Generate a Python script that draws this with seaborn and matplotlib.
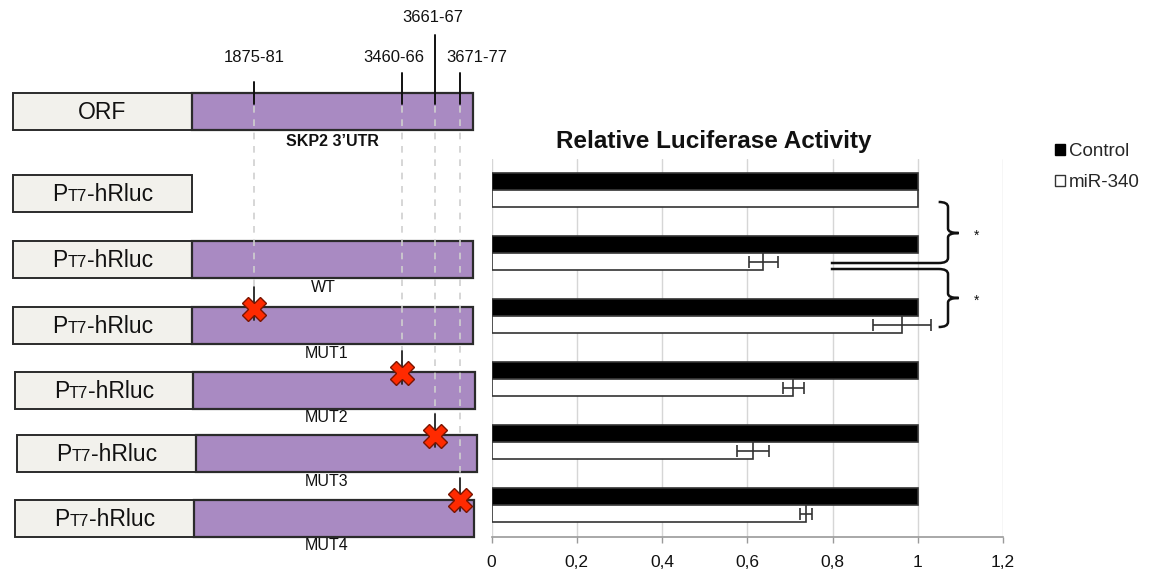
import numpy as np
import pandas as pd
import matplotlib
matplotlib.use("Agg")
import matplotlib.pyplot as plt
import seaborn as sns
from matplotlib.patches import Rectangle, Patch, PathPatch
from matplotlib.path import Path
from matplotlib.offsetbox import TextArea, HPacker, AnnotationBbox

# ---------------- data ----------------
constructs = ["PT7-hRluc", "WT", "MUT1", "MUT2", "MUT3", "MUT4"]
series = ["Control", "miR-340"]
control = [1.0, 1.0, 1.0, 1.0, 1.0, 1.0]
mir340 = [1.0, 0.638, 0.963, 0.708, 0.613, 0.737]
mir340_err = [0.0, 0.034, 0.067, 0.024, 0.038, 0.014]
xticks = [0, 0.2, 0.4, 0.6, 0.8, 1.0, 1.2]
xtick_labels = ["0", "0,2", "0,4", "0,6", "0,8", "1", "1,2"]
site_labels = ["1875-81", "3460-66", "3661-67", "3671-77"]
mut_labels = ["WT", "MUT1", "MUT2", "MUT3", "MUT4"]
title = "Relative Luciferase Activity"

df = pd.DataFrame({
    "construct": constructs * 2,
    "condition": [series[0]] * len(constructs) + [series[1]] * len(constructs),
    "activity": control + mir340,
})

# ---------------- style ----------------
sns.set_theme(style="white")
plt.rcParams["font.family"] = ["Liberation Sans", "DejaVu Sans"]

W, H = 1156, 576
fig = plt.figure(figsize=(W / 100, H / 100), dpi=100)

# overlay axes for the construct schematic (pixel coordinates)
ax0 = fig.add_axes([0, 0, 1, 1])
ax0.set_xlim(0, W)
ax0.set_ylim(H, 0)
ax0.axis("off")

WHITE = "#f2f1ec"
PURPLE = "#a98ac2"
EDGE = "#2b2b2b"

# schematic layout
box_tops = [93, 175, 241, 307, 372, 435, 500]
box_h = 36.5
box_x0 = [13, 13, 13, 13, 15, 17, 15]
box_split = [192, 192, 192, 192, 193, 196, 194]
box_x1 = [473, None, 473, 473, 475, 477, 474]

for i, top in enumerate(box_tops):
    ax0.add_patch(Rectangle((box_x0[i], top), box_split[i] - box_x0[i], box_h,
                            facecolor=WHITE, edgecolor=EDGE, lw=1.4, zorder=2))
    if box_x1[i] is not None:
        ax0.add_patch(Rectangle((box_split[i], top), box_x1[i] - box_split[i], box_h,
                                facecolor=PURPLE, edgecolor=EDGE, lw=1.6, zorder=2))
    cx = (box_x0[i] + box_split[i]) / 2
    cy = top + box_h / 2
    if i == 0:
        ax0.text(cx, cy + 1, "ORF", ha="center", va="center", fontsize=16.5, color="#111111", zorder=5)
    else:
        pk = HPacker(children=[
            TextArea("P", textprops=dict(fontsize=16.5, color="#111111")),
            TextArea("T7", textprops=dict(fontsize=12, color="#111111")),
            TextArea("-hRluc", textprops=dict(fontsize=16.5, color="#111111")),
        ], align="baseline", pad=0, sep=0)
        ab = AnnotationBbox(pk, (cx, cy + 1), xycoords="data", frameon=False,
                            box_alignment=(0.5, 0.5), zorder=5)
        ax0.add_artist(ab)

ax0.text(332, 142, "SKP2 3\u2019UTR", ha="center", va="center", fontsize=11.5,
         fontweight="bold", color="#111111")
mut_label_y = [288, 353, 418, 482, 546]
mut_label_x = [323, 327, 326, 327, 327]
for lab, x, y in zip(mut_labels, mut_label_x, mut_label_y):
    ax0.text(x, y, lab, ha="center", va="center", fontsize=11.5, color="#111111")

site_x = [254, 402, 435, 460]
site_label_pos = [(254, 58), (394, 58), (433, 17), (477, 58)]
site_line_top = [82, 73, 35, 73]
cross_y = [309, 373, 436, 500]
for k in range(4):
    ax0.text(*site_label_pos[k], site_labels[k], ha="center", va="center",
             fontsize=12, color="#111111")
    ax0.plot([site_x[k], site_x[k]], [site_line_top[k], 104], color="#111111", lw=1.4, zorder=4)
    ax0.plot([site_x[k], site_x[k]], [106, cross_y[k] - 22], color="#cfcfcf", lw=1.2,
             ls=(0, (4, 4)), zorder=3)
    ax0.plot([site_x[k], site_x[k]], [cross_y[k] - 22, cross_y[k] + 11], color="#222222",
             lw=1.3, zorder=4)
    ax0.plot([site_x[k]], [cross_y[k]], marker="X", markersize=17, color="#ff2a00",
             markeredgecolor="#7a1400", markeredgewidth=1.0, zorder=6)

# ---------------- bar chart ----------------
ax = fig.add_axes([491.5 / W, 39.5 / H, 511.5 / W, 378 / H])
sns.barplot(data=df, y="construct", x="activity", hue="condition", order=constructs,
            hue_order=series, palette=["black", "white"], width=0.54, saturation=1,
            edgecolor="#333333", linewidth=1.2, errorbar=None, legend=False, ax=ax)

mir_bars = ax.containers[1]
ys = [p.get_y() + p.get_height() / 2 for p in mir_bars]
for v, y, e in zip(mir340, ys, mir340_err):
    if e > 0:
        ax.errorbar([v], [y], xerr=[e], fmt="none", ecolor="#333333", elinewidth=1.2,
                    capsize=4.5, capthick=1.2, zorder=5)

ax.set_xlim(0, 1.2)
ax.set_ylim(len(constructs) - 0.5, -0.5)
ax.set_xticks(xticks)
ax.set_xticklabels(xtick_labels, fontsize=12.5, color="#111111")
ax.set_yticks([])
ax.set_xlabel("")
ax.set_ylabel("")
ax.xaxis.grid(True, color="#d6d6d6", lw=1)
ax.set_axisbelow(True)
for s in ["left", "right", "top"]:
    ax.spines[s].set_visible(False)
ax.spines["bottom"].set_color("#9a9a9a")
ax.spines["bottom"].set_linewidth(1.2)
ax.tick_params(axis="x", bottom=True, length=4, width=1, color="#9a9a9a", pad=9)

# significance braces
bx = 1.071
xl = 0.796
def brace_path(top, mid, bot, start_left=None, end_left=None):
    verts, codes = [], []
    if start_left is not None:
        verts += [(start_left, top), (bx - 0.022, top)]
        codes += [Path.MOVETO, Path.LINETO]
    else:
        verts += [(bx - 0.022, top)]
        codes += [Path.MOVETO]
    verts += [(bx, top), (bx, top + 0.08), (bx, mid - 0.07), (bx, mid), (bx + 0.025, mid)]
    codes += [Path.CURVE3, Path.CURVE3, Path.LINETO, Path.CURVE3, Path.CURVE3]
    verts += [(bx, mid), (bx, mid + 0.07), (bx, bot - 0.08), (bx, bot), (bx - 0.022, bot)]
    codes += [Path.CURVE3, Path.CURVE3, Path.LINETO, Path.CURVE3, Path.CURVE3]
    if end_left is not None:
        verts += [(end_left, bot)]
        codes += [Path.LINETO]
    return Path(verts, codes)

for p in [brace_path(0.19, 0.683, 1.159, end_left=xl),
          brace_path(1.254, 1.714, 2.175, start_left=xl)]:
    ax.add_patch(PathPatch(p, facecolor="none", edgecolor="#111111", lw=1.8,
                           clip_on=False, zorder=6))
for y in [0.683, 1.714]:
    ax.text(1.139, y + 0.05, "*", ha="center", va="center", fontsize=10, color="#111111",
            clip_on=False)

fig.text(714 / W, 1 - 148 / H, title, ha="center", va="baseline", fontsize=17.5,
         fontweight="bold", color="#111111")

fig.legend(handles=[Patch(facecolor="black", edgecolor="black"),
                    Patch(facecolor="white", edgecolor="#333333")],
           labels=series, loc="upper left", bbox_to_anchor=(1055 / W, 1 - 143 / H),
           frameon=False, fontsize=13.5, handlelength=0.55, handleheight=0.55,
           handletextpad=0.2, labelspacing=0.75, borderpad=0, borderaxespad=0)

fig.savefig("out.png", dpi=100)
